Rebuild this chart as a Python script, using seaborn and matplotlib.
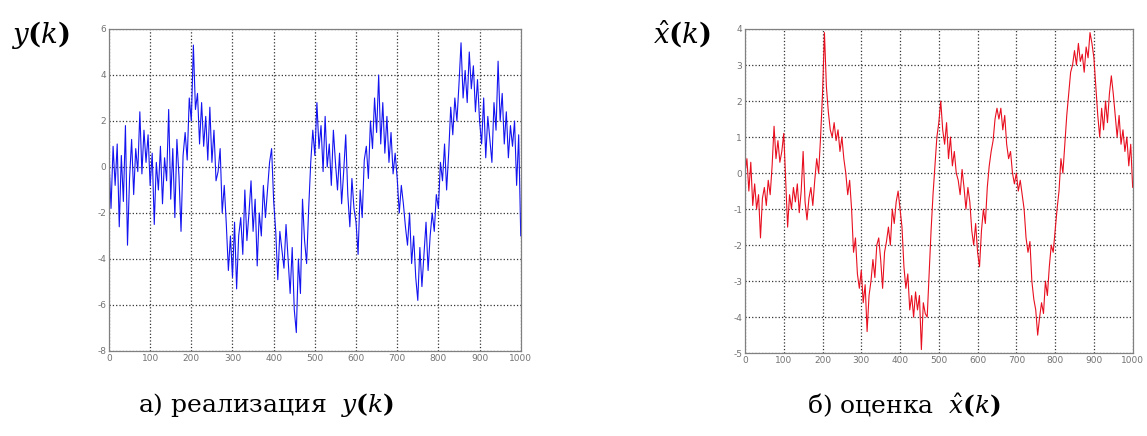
import numpy as np
import pandas as pd
import matplotlib
matplotlib.use("Agg")
import matplotlib.pyplot as plt
import seaborn as sns

# sample index (every 5th step)
k = list(range(0, 1001, 5))

# y(k) - noisy realization
y_vals = [
    0.3, -1.8, 0.9, -0.8, 1.0, -2.6, 0.5, -1.5, 1.8, -3.4,
    -0.5, 1.2, -1.2, 0.8, -0.2, 2.4, -0.3, 1.6, 0.2, 1.4,
    -0.8, 0.6, -2.5, 0.2, -1.0, 0.9, -1.6, 0.4, -0.6, 2.5,
    -1.4, 0.8, -2.2, 1.2, -0.4, -2.8, 0.5, 1.5, 0.3, 3.0,
    2.0, 5.3, 2.5, 3.2, 1.0, 2.8, 0.9, 2.2, 0.3, 2.6,
    0.2, 1.6, -0.6, -0.2, 0.8, -2.0, -0.8, -2.5, -4.5, -3.0,
    -4.8, -2.4, -5.3, -3.0, -2.2, -3.8, -1.0, -3.2, -2.0, -0.6,
    -2.8, -1.4, -4.3, -2.0, -3.0, -0.8, -2.2, -1.0, 0.2, 0.8,
    -1.5, -2.8, -4.9, -2.8, -3.6, -4.4, -2.5, -4.0, -5.5, -3.5,
    -6.2, -7.2, -4.0, -5.5, -1.4, -3.2, -4.2, -1.8, 0.2, 1.6,
    0.5, 2.8, 0.8, 1.8, -0.2, 2.2, 0.0, 1.0, -0.8, 1.6,
    0.2, -1.0, 0.6, -1.6, -0.2, 1.4, -1.2, -2.6, -0.5, -1.8,
    -2.4, -3.8, -1.0, -2.2, 0.3, 0.9, -0.5, 2.0, 0.8, 3.0,
    1.5, 4.0, 1.0, 2.8, 0.6, 2.2, 0.2, 1.5, -0.3, 0.6,
    -0.5, -2.0, -0.8, -1.6, -2.6, -3.4, -2.0, -4.2, -3.0, -4.8,
    -5.8, -3.5, -5.2, -3.8, -2.4, -4.5, -3.0, -2.0, -2.8, -1.2,
    -1.8, 0.2, -0.6, 1.0, -1.0, 0.6, 2.6, 1.4, 3.0, 2.0,
    3.6, 5.4, 3.0, 4.2, 2.8, 5.0, 3.4, 4.4, 2.4, 3.8,
    2.0, 1.0, 3.0, 0.4, 2.2, 1.2, 0.2, 2.8, 1.6, 4.6,
    2.0, 3.2, 1.0, 2.4, 0.4, 1.8, 0.9, 2.0, -0.8, 1.4,
    -3.0,
]

# x_hat(k) - estimate
xhat_vals = [
    0.0, 0.4, -0.5, 0.3, -0.9, -0.3, -1.0, -0.6, -1.8, -0.7,
    -0.4, -0.9, -0.2, -0.6, 0.2, 1.3, 0.4, 0.9, 0.3, 0.6,
    1.1, -0.2, -1.5, -0.6, -1.0, -0.4, -0.8, -0.3, -1.1, -0.5,
    0.6, -0.8, -1.3, -0.7, -0.4, -0.9, -0.2, 0.4, 0.0, 1.0,
    2.2, 3.9, 2.4, 1.7, 1.2, 1.0, 1.4, 0.9, 1.2, 0.6,
    1.0, 0.4, 0.0, -0.6, -0.2, -1.0, -2.2, -1.8, -2.8, -3.2,
    -2.7, -3.6, -3.1, -4.4, -3.4, -3.0, -2.4, -2.9, -2.0, -1.8,
    -2.4, -3.2, -2.2, -1.9, -1.5, -2.0, -1.0, -1.4, -0.8, -0.5,
    -1.0, -1.5, -2.6, -3.2, -2.8, -3.8, -3.4, -4.0, -3.3, -3.8,
    -3.4, -4.9, -3.6, -3.9, -4.0, -2.8, -1.6, -0.6, 0.2, 1.0,
    1.4, 2.0, 1.2, 0.8, 1.4, 0.4, 1.0, 0.2, 0.6, 0.0,
    -0.2, -0.6, 0.1, -0.4, -1.0, -0.4, -0.8, -1.6, -2.0, -1.4,
    -2.2, -2.6, -1.6, -1.0, -1.4, -0.4, 0.2, 0.6, 0.9, 1.5,
    1.8, 1.5, 1.8, 1.2, 1.6, 0.8, 0.4, 0.6, 0.0, -0.3,
    0.0, -0.5, -0.2, -0.6, -1.0, -1.8, -2.2, -1.9, -3.0, -3.5,
    -3.8, -4.5, -4.0, -3.6, -3.9, -3.0, -3.4, -2.6, -2.0, -2.2,
    -1.6, -1.0, -0.5, 0.4, 0.0, 0.8, 1.6, 2.2, 2.8, 3.0,
    3.4, 3.0, 3.6, 3.1, 3.3, 2.8, 3.5, 3.2, 3.9, 3.6,
    3.2, 2.4, 1.6, 1.0, 1.8, 1.2, 2.0, 1.4, 2.2, 2.7,
    2.2, 1.6, 1.0, 1.6, 0.8, 1.2, 0.6, 1.0, 0.2, 0.8,
    -0.4,
]

x_ticks = list(range(0, 1001, 100))
y_ticks_left = list(range(-8, 7, 2))
y_ticks_right = list(range(-5, 5))

df = pd.DataFrame({"k": k, "y": y_vals, "xhat": xhat_vals})

sns.set_style("white")
plt.rcParams["mathtext.fontset"] = "dejavuserif"
plt.rcParams["font.family"] = ["DejaVu Serif"]
plt.rcParams["axes.unicode_minus"] = False

fig = plt.figure(figsize=(11.47, 4.36), dpi=100)
ax1 = fig.add_axes([0.095, 0.195, 0.359, 0.7385])
ax2 = fig.add_axes([0.6495, 0.190, 0.338, 0.7435])

sns.lineplot(data=df, x="k", y="y", ax=ax1, color="#1414f0", lw=0.8)
sns.lineplot(data=df, x="k", y="xhat", ax=ax2, color="#e81020", lw=0.8)

for ax, yt in [(ax1, y_ticks_left), (ax2, y_ticks_right)]:
    ax.set_xlim(0, 1000)
    ax.set_ylim(yt[0], yt[-1])
    ax.set_xticks(x_ticks)
    ax.set_yticks(yt)
    ax.set_xlabel("")
    ax.set_ylabel("")
    ax.grid(True, ls=":", color="0.2", lw=0.9)
    ax.tick_params(direction="in", length=3, labelsize=6.5,
                   labelcolor="0.45", color="0.4", pad=2)
    for lab in ax.get_xticklabels() + ax.get_yticklabels():
        lab.set_family("DejaVu Sans")
    for s in ax.spines.values():
        s.set_color("0.5")
        s.set_linewidth(0.9)

fig.text(0.035, 0.92, r"$y\mathbf{(}k\mathbf{)}$", fontsize=20,
         ha="center", va="center", color="black")
fig.text(0.595, 0.92, r"$\hat{x}\mathbf{(}k\mathbf{)}$", fontsize=20,
         ha="center", va="center", color="black")

fig.text(0.232, 0.07, r"а) реализация  $y\mathbf{(}k\mathbf{)}$", fontsize=18,
         ha="center", va="center", color="black")
fig.text(0.788, 0.07, r"б) оценка  $\hat{x}\mathbf{(}k\mathbf{)}$", fontsize=18,
         ha="center", va="center", color="black")

fig.savefig("out.png", dpi=100)
